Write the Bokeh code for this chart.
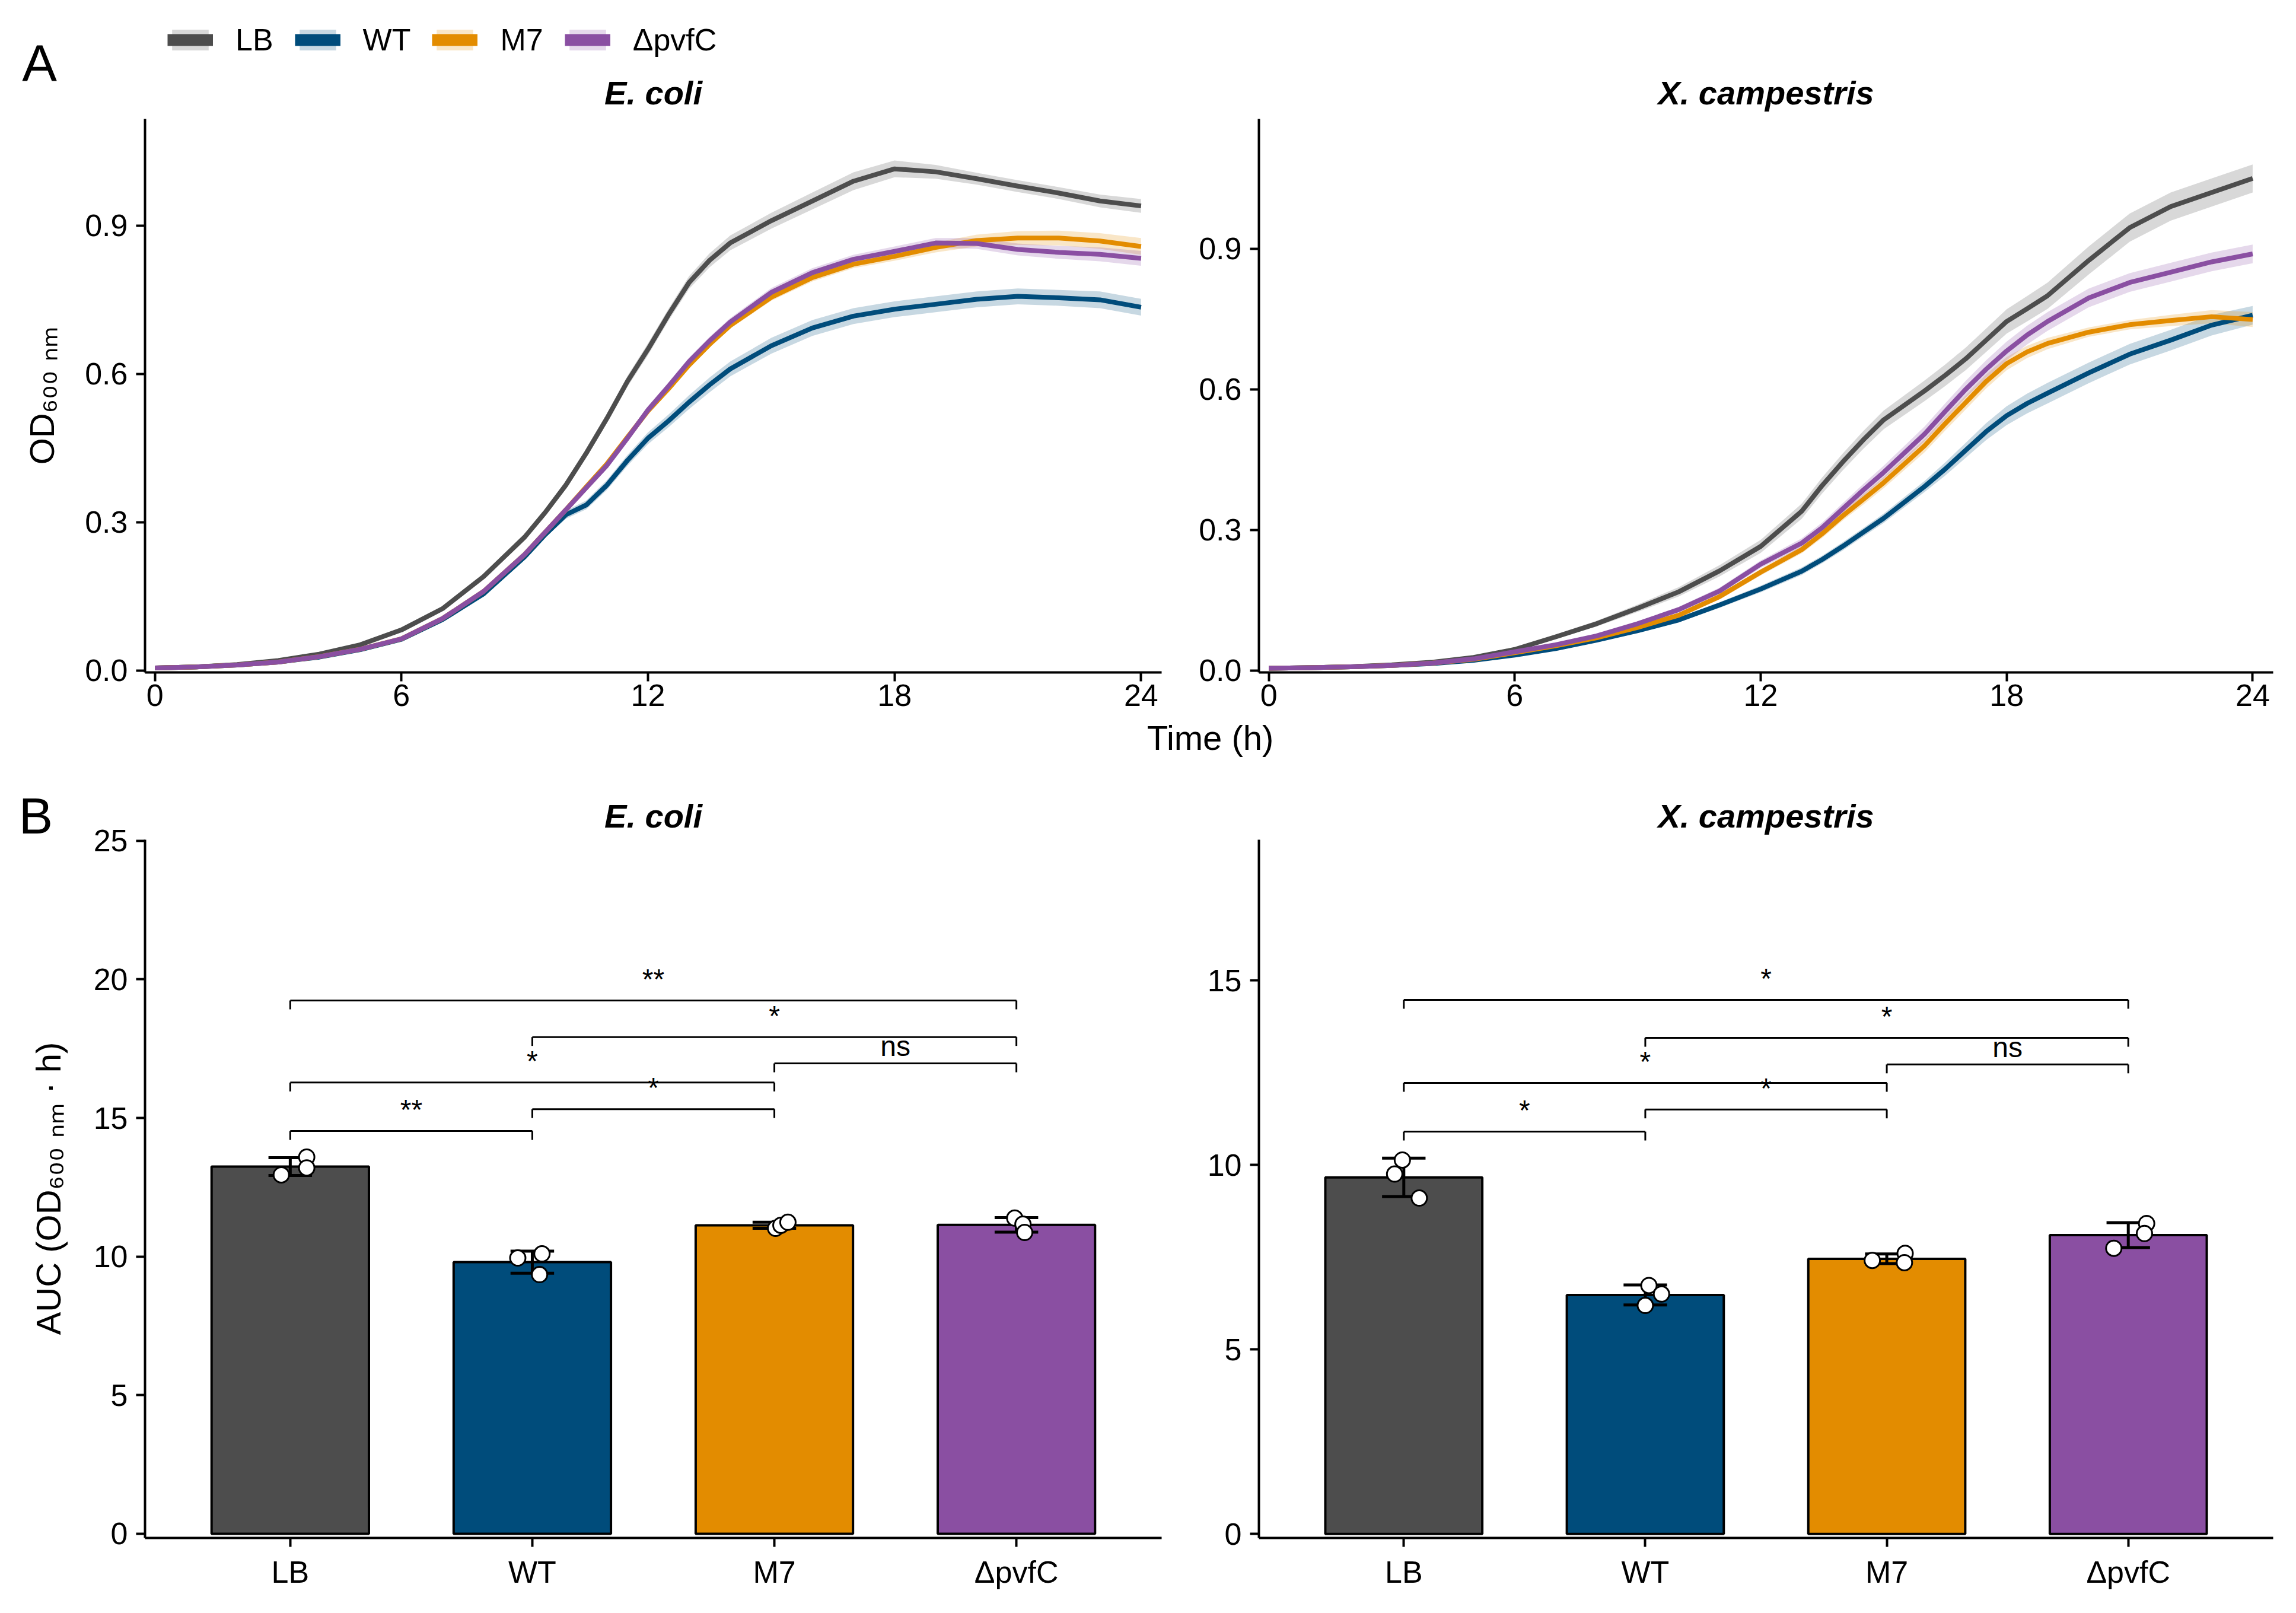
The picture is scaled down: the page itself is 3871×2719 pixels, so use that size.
import numpy as np
from bokeh.plotting import figure
from bokeh.layouts import column, row
from bokeh.models import Range1d, FixedTicker, Legend, LegendItem, PrintfTickFormatter
from bokeh.core.properties import value
from bokeh.embed import file_html
from bokeh.resources import INLINE

FONT = "Liberation Sans"

groups = ["LB", "WT", "M7", "ΔpvfC"]
colors = ["#4D4D4D", "#004C7B", "#E38C00", "#8A4FA2"]

# ---------------- Panel A : growth curves ----------------
t_ecoli = [0, 1, 2, 3, 4, 5, 6, 7, 8, 9, 9.5, 10, 10.5, 11, 11.5, 12, 12.5, 13, 13.5, 14,
           15, 16, 17, 18, 19, 20, 21, 22, 23, 24]
ecoli_LB = [0.005, 0.007, 0.012, 0.02, 0.033, 0.052, 0.082, 0.125, 0.19, 0.27, 0.32, 0.375, 0.44, 0.51,
            0.585, 0.65, 0.72, 0.785, 0.83, 0.865, 0.91, 0.95, 0.99, 1.015, 1.009, 0.995, 0.98, 0.966,
            0.95, 0.94]
ecoli_WT = [0.005, 0.007, 0.011, 0.017, 0.027, 0.042, 0.063, 0.103, 0.155, 0.23, 0.275, 0.315, 0.335,
            0.375, 0.425, 0.47, 0.505, 0.543, 0.578, 0.61, 0.657, 0.693, 0.717, 0.731, 0.741, 0.751,
            0.757, 0.754, 0.75, 0.735]
ecoli_M7 = [0.005, 0.007, 0.011, 0.017, 0.028, 0.043, 0.064, 0.105, 0.16, 0.235, 0.28, 0.325, 0.372,
            0.418, 0.472, 0.525, 0.57, 0.618, 0.66, 0.698, 0.755, 0.795, 0.822, 0.838, 0.856, 0.87,
            0.875, 0.875, 0.869, 0.858]
ecoli_PV = [0.005, 0.007, 0.011, 0.017, 0.028, 0.043, 0.064, 0.105, 0.16, 0.235, 0.28, 0.325, 0.37,
            0.415, 0.47, 0.527, 0.575, 0.625, 0.667, 0.705, 0.765, 0.805, 0.832, 0.848, 0.865, 0.864,
            0.852, 0.846, 0.842, 0.834]
ecoli_LB_sd = [0.002, 0.002, 0.002, 0.002, 0.002, 0.003, 0.003, 0.004, 0.005, 0.006, 0.007, 0.008, 0.009,
               0.010, 0.011, 0.012, 0.012, 0.013, 0.014, 0.015, 0.016, 0.017, 0.018, 0.017, 0.014, 0.012,
               0.012, 0.012, 0.013, 0.014]
ecoli_WT_sd = [0.002, 0.002, 0.002, 0.002, 0.002, 0.002, 0.003, 0.003, 0.004, 0.005, 0.006, 0.008, 0.009,
               0.010, 0.011, 0.012, 0.013, 0.014, 0.015, 0.015, 0.016, 0.016, 0.016, 0.016, 0.016, 0.016,
               0.016, 0.016, 0.017, 0.017]
ecoli_M7_sd = [0.002, 0.002, 0.002, 0.002, 0.002, 0.002, 0.003, 0.003, 0.004, 0.004, 0.005, 0.005, 0.006,
               0.006, 0.006, 0.006, 0.006, 0.006, 0.006, 0.006, 0.007, 0.008, 0.008, 0.009, 0.010, 0.012,
               0.014, 0.015, 0.016, 0.017]
ecoli_PV_sd = [0.002, 0.002, 0.002, 0.002, 0.002, 0.002, 0.003, 0.003, 0.004, 0.004, 0.005, 0.006, 0.006,
               0.007, 0.007, 0.008, 0.008, 0.008, 0.008, 0.008, 0.009, 0.009, 0.009, 0.010, 0.010, 0.011,
               0.012, 0.013, 0.014, 0.015]

t_xcc = [0, 1, 2, 3, 4, 5, 6, 7, 8, 9, 10, 11, 12, 13, 13.5, 14, 14.5, 15, 16, 16.5, 17, 17.5, 18, 18.5,
         19, 20, 21, 22, 23, 24]
xcc_LB = [0.005, 0.006, 0.008, 0.012, 0.018, 0.028, 0.045, 0.072, 0.1, 0.133, 0.168, 0.213, 0.265, 0.34,
          0.395, 0.445, 0.492, 0.535, 0.597, 0.63, 0.665, 0.705, 0.745, 0.772, 0.8, 0.875, 0.945, 0.99,
          1.02, 1.05]
xcc_WT = [0.005, 0.006, 0.008, 0.011, 0.015, 0.022, 0.033, 0.047, 0.065, 0.085, 0.108, 0.14, 0.174, 0.212,
          0.237, 0.265, 0.295, 0.325, 0.393, 0.43, 0.47, 0.51, 0.544, 0.57, 0.592, 0.635, 0.675, 0.705,
          0.737, 0.758]
xcc_M7 = [0.005, 0.006, 0.008, 0.011, 0.016, 0.024, 0.038, 0.053, 0.07, 0.092, 0.118, 0.158, 0.21, 0.258,
          0.292, 0.33, 0.365, 0.401, 0.48, 0.527, 0.572, 0.617, 0.655, 0.68, 0.698, 0.722, 0.738, 0.747,
          0.755, 0.749]
xcc_PV = [0.005, 0.006, 0.008, 0.011, 0.016, 0.025, 0.04, 0.055, 0.074, 0.1, 0.13, 0.17, 0.227, 0.272,
          0.305, 0.345, 0.385, 0.423, 0.505, 0.553, 0.6, 0.643, 0.682, 0.716, 0.745, 0.795, 0.828, 0.85,
          0.872, 0.889]
xcc_LB_sd = [0.002, 0.002, 0.002, 0.002, 0.003, 0.003, 0.004, 0.005, 0.006, 0.008, 0.010, 0.012, 0.014,
             0.016, 0.017, 0.018, 0.019, 0.020, 0.022, 0.023, 0.024, 0.025, 0.026, 0.027, 0.028, 0.030,
             0.030, 0.030, 0.030, 0.030]
xcc_WT_sd = [0.002, 0.002, 0.002, 0.002, 0.002, 0.003, 0.003, 0.004, 0.004, 0.005, 0.005, 0.006, 0.007,
             0.008, 0.008, 0.009, 0.009, 0.010, 0.012, 0.014, 0.016, 0.018, 0.020, 0.021, 0.022, 0.022,
             0.022, 0.022, 0.022, 0.020]
xcc_M7_sd = [0.002, 0.002, 0.002, 0.002, 0.002, 0.003, 0.003, 0.004, 0.004, 0.005, 0.005, 0.006, 0.007,
             0.008, 0.009, 0.010, 0.011, 0.012, 0.014, 0.015, 0.015, 0.015, 0.014, 0.013, 0.012, 0.010,
             0.010, 0.012, 0.014, 0.016]
xcc_PV_sd = [0.002, 0.002, 0.002, 0.002, 0.002, 0.003, 0.003, 0.004, 0.004, 0.005, 0.006, 0.007, 0.008,
             0.010, 0.011, 0.012, 0.013, 0.014, 0.016, 0.017, 0.018, 0.019, 0.020, 0.020, 0.020, 0.020,
             0.020, 0.020, 0.020, 0.020]

# ---------------- Panel B : AUC replicates ----------------
auc_ecoli_LB = [12.95, 13.59, 13.20]
auc_ecoli_WT = [9.95, 10.10, 9.35]
auc_ecoli_M7 = [11.02, 11.13, 11.24]
auc_ecoli_PV = [11.39, 11.17, 10.87]
auc_xcc_LB = [10.13, 9.75, 9.10]
auc_xcc_WT = [6.73, 6.50, 6.19]
auc_xcc_M7 = [7.41, 7.60, 7.35]
auc_xcc_PV = [8.41, 8.14, 7.74]
# horizontal jitter of the replicate dots (category units)
jit_ecoli = [[-0.037, 0.068, 0.068], [-0.06, 0.04, 0.03], [0.005, 0.027, 0.056], [-0.007, 0.027, 0.034]]
jit_xcc = [[-0.006, -0.038, 0.064], [0.015, 0.067, 0.0], [-0.06, 0.076, 0.073], [0.076, 0.067, -0.06]]

# significance brackets: group1, group2, height, label
sig_g1 = ["LB", "WT", "M7", "LB", "WT", "LB"]
sig_g2 = ["ΔpvfC", "ΔpvfC", "ΔpvfC", "M7", "M7", "WT"]
sig_y_ecoli = [19.24, 17.92, 16.97, 16.28, 15.32, 14.53]
sig_lab_ecoli = ["**", "*", "ns", "*", "*", "**"]
sig_y_xcc = [14.47, 13.44, 12.72, 12.22, 11.50, 10.90]
sig_lab_xcc = ["*", "*", "ns", "*", "*", "*"]

# ---------------- layout constants (page pixels) ----------------
W_L, W_R = 2000, 1871
W = W_L + W_R
W_C = 120                     # narrow column holding "B" and the AUC axis title
H_HEAD, H_A, H_S, H_B = 197, 1015, 108, 1399
B_TOP, B_BOT = 95, 127
A_XR = (-0.24, 24.5)
A_YR_L = (-0.004, 1.116)
A_YR_R = (-0.004, 1.177)
B_XR = (0.4, 4.6)
B_YR_L = (-0.15, 25.04)
B_YR_R = (-0.11, 18.81)


def base_fig(width, height, xr, yr, left, right, top, bottom, title=None):
    p = figure(width=width, height=height, x_range=Range1d(*xr), y_range=Range1d(*yr),
               output_backend="svg", toolbar_location=None, title=title,
               min_border_left=left, min_border_right=right,
               min_border_top=top, min_border_bottom=bottom)
    p.xgrid.visible = False
    p.ygrid.visible = False
    p.outline_line_color = None
    p.background_fill_color = "white"
    p.border_fill_color = "white"
    for ax in p.axis:
        ax.axis_line_width = 4
        ax.axis_line_color = "black"
        ax.major_tick_line_width = 4
        ax.major_tick_line_color = "black"
        ax.major_tick_out = 15
        ax.major_tick_in = 0
        ax.minor_tick_line_color = None
        ax.major_label_text_font = FONT
        ax.major_label_text_font_size = "52px"
        ax.major_label_text_color = "black"
        ax.axis_label_text_font = FONT
        ax.axis_label_text_font_size = "58px"
        ax.axis_label_text_font_style = "normal"
        ax.axis_label_text_color = "black"
    p.yaxis.major_label_standoff = 14
    if title is not None:
        p.title.text_font = FONT
        p.title.text_font_size = "56px"
        p.title.text_font_style = "bold italic"
        p.title.text_color = "black"
        p.title.align = "center"
        p.title.standoff = 17
    return p


def text_fig(width, height, flip=True):
    yr = Range1d(height, 0) if flip else Range1d(0, height)
    p = figure(width=width, height=height, x_range=Range1d(0, width), y_range=yr,
               output_backend="svg", toolbar_location=None, title=None, min_border=0,
               x_axis_type=None, y_axis_type=None)
    p.outline_line_color = None
    p.grid.visible = False
    p.background_fill_color = "white"
    p.border_fill_color = "white"
    return p


def put_text(p, x, y, txt, size, style="normal", angle=0.0):
    p.text(x=[x], y=[y], text=[txt], text_align="center", text_baseline="middle", angle=angle,
           text_font=value(FONT), text_font_size=size, text_font_style=style, text_color="black")


def growth(p, t, series, sds):
    for v, s, c in zip(series, sds, colors):
        v = np.array(v)
        s = np.array(s)
        p.varea(x=t, y1=v - s, y2=v + s, fill_color=c, fill_alpha=0.22)
    for v, c in zip(series, colors):
        p.line(x=t, y=v, line_color=c, line_width=8, line_join="round")
    p.xaxis.ticker = FixedTicker(ticks=[0, 6, 12, 18, 24])
    p.yaxis.ticker = FixedTicker(ticks=[0, 0.3, 0.6, 0.9])
    p.yaxis.formatter = PrintfTickFormatter(format="%.1f")
    p.xaxis.major_label_standoff = 5


def bars(p, reps, jit, sig_y, sig_lab, tip, yticks):
    xs = np.arange(1, len(groups) + 1)
    means = np.array([np.mean(r) for r in reps])
    sds = np.array([np.std(r, ddof=1) for r in reps])
    p.vbar(x=xs, top=means, bottom=0, width=0.65, fill_color=colors,
           line_color="black", line_width=4)
    lo, hi = means - sds, means + sds
    p.segment(x0=xs, x1=xs, y0=lo, y1=hi, line_color="black", line_width=5)
    p.segment(x0=xs - 0.09, x1=xs + 0.09, y0=hi, y1=hi, line_color="black", line_width=5)
    p.segment(x0=xs - 0.09, x1=xs + 0.09, y0=lo, y1=lo, line_color="black", line_width=5)
    px = [x + j for x, js in zip(xs, jit) for j in js]
    py = [v for r in reps for v in r]
    p.scatter(x=px, y=py, size=26, fill_color="white", line_color="black", line_width=3)
    pos = {g: i + 1 for i, g in enumerate(groups)}
    x1 = np.array([pos[g] for g in sig_g1], dtype=float)
    x2 = np.array([pos[g] for g in sig_g2], dtype=float)
    ys = np.array(sig_y)
    p.segment(x0=x1, x1=x2, y0=ys, y1=ys, line_color="black", line_width=3)
    p.segment(x0=x1, x1=x1, y0=ys, y1=ys - tip, line_color="black", line_width=3)
    p.segment(x0=x2, x1=x2, y0=ys, y1=ys - tip, line_color="black", line_width=3)
    mid = (x1 + x2) / 2
    labs = np.array(sig_lab)
    star = labs != "ns"
    p.text(x=mid[star], y=ys[star], text=list(labs[star]), text_align="center",
           text_baseline="alphabetic", y_offset=-36, text_font=value(FONT),
           text_font_size="48px", text_color="black")
    p.text(x=mid[~star], y=ys[~star], text=list(labs[~star]), text_align="center",
           text_baseline="alphabetic", y_offset=-29, text_font=value(FONT),
           text_font_size="48px", text_color="black")
    p.xaxis.ticker = FixedTicker(ticks=list(xs))
    p.xaxis.major_label_overrides = {int(i + 1): g for i, g in enumerate(groups)}
    p.xaxis.major_label_standoff = 13
    p.yaxis.ticker = FixedTicker(ticks=yticks)


# ---- header: panel letter, legend, panel titles
head = text_fig(W, H_HEAD)
put_text(head, 66, 106, "A", "88px")
put_text(head, 1101, 156, "E. coli", "56px", "bold italic")
put_text(head, 2977, 156, "X. campestris", "56px", "bold italic")
items = []
for g, c in zip(groups, colors):
    # key-only renderers, placed outside the visible range of the header
    rb = head.varea(x=[-300, -200], y1=[10, 10], y2=[20, 20], fill_color=c, fill_alpha=0.22)
    rl = head.line(x=[-300, -200], y=[15, 15], line_color=c, line_width=20)
    items.append(LegendItem(label=g, renderers=[rb, rl]))
leg = Legend(items=items, orientation="horizontal", location=(282, 100),
             glyph_width=77, glyph_height=44, label_standoff=38, spacing=36,
             padding=0, margin=0, border_line_color=None, background_fill_alpha=0,
             label_text_font=FONT, label_text_font_size="52px", label_text_color="black")
head.add_layout(leg)

# ---- Row A
aL = base_fig(W_L, H_A, A_XR, A_YR_L, 244, 42, 3, 79)
growth(aL, t_ecoli, [ecoli_LB, ecoli_WT, ecoli_M7, ecoli_PV],
       [ecoli_LB_sd, ecoli_WT_sd, ecoli_M7_sd, ecoli_PV_sd])
aL.yaxis.axis_label = "OD₆₀₀ ₙₘ"
aL.yaxis.axis_label_standoff = 37

aR = base_fig(W_R, H_A, A_XR, A_YR_R, 122, 39, 3, 79)
growth(aR, t_xcc, [xcc_LB, xcc_WT, xcc_M7, xcc_PV],
       [xcc_LB_sd, xcc_WT_sd, xcc_M7_sd, xcc_PV_sd])

# ---- strip: shared x-axis title
strip = text_fig(W, H_S)
put_text(strip, 2040, 31, "Time (h)", "58px")

# ---- Row B
# narrow column: panel letter as its title, AUC axis title as a rotated text in its frame
H_FR = H_B - B_TOP - B_BOT
colB = figure(width=W_C, height=H_B, x_range=Range1d(0, W_C), y_range=Range1d(0, H_FR),
              output_backend="svg", toolbar_location=None, title="B",
              min_border_left=0, min_border_right=0, min_border_top=B_TOP, min_border_bottom=B_BOT,
              x_axis_type=None, y_axis_type=None)
colB.outline_line_color = None
colB.grid.visible = False
colB.title.text_font = FONT
colB.title.text_font_size = "86px"
colB.title.text_font_style = "normal"
colB.title.text_color = "black"
colB.title.align = "center"
colB.title.standoff = -14
colB.title.offset = 0
put_text(colB, 81, H_FR - 588, "AUC (OD₆₀₀ ₙₘ · h)", "58px", angle=np.pi / 2)

bL = base_fig(W_L - W_C, H_B, B_XR, B_YR_L, 244 - W_C, 42, B_TOP, B_BOT, title="E. coli")
bars(bL, [auc_ecoli_LB, auc_ecoli_WT, auc_ecoli_M7, auc_ecoli_PV], jit_ecoli,
     sig_y_ecoli, sig_lab_ecoli, 0.32, [0, 5, 10, 15, 20, 25])

bR = base_fig(W_R, H_B, B_XR, B_YR_R, 122, 39, B_TOP, B_BOT, title="X. campestris")
bars(bR, [auc_xcc_LB, auc_xcc_WT, auc_xcc_M7, auc_xcc_PV], jit_xcc,
     sig_y_xcc, sig_lab_xcc, 0.24, [0, 5, 10, 15])

layout = column(head, row(aL, aR), strip, row(colB, bL, bR))
open("out.html", "w").write(file_html(layout, INLINE))
